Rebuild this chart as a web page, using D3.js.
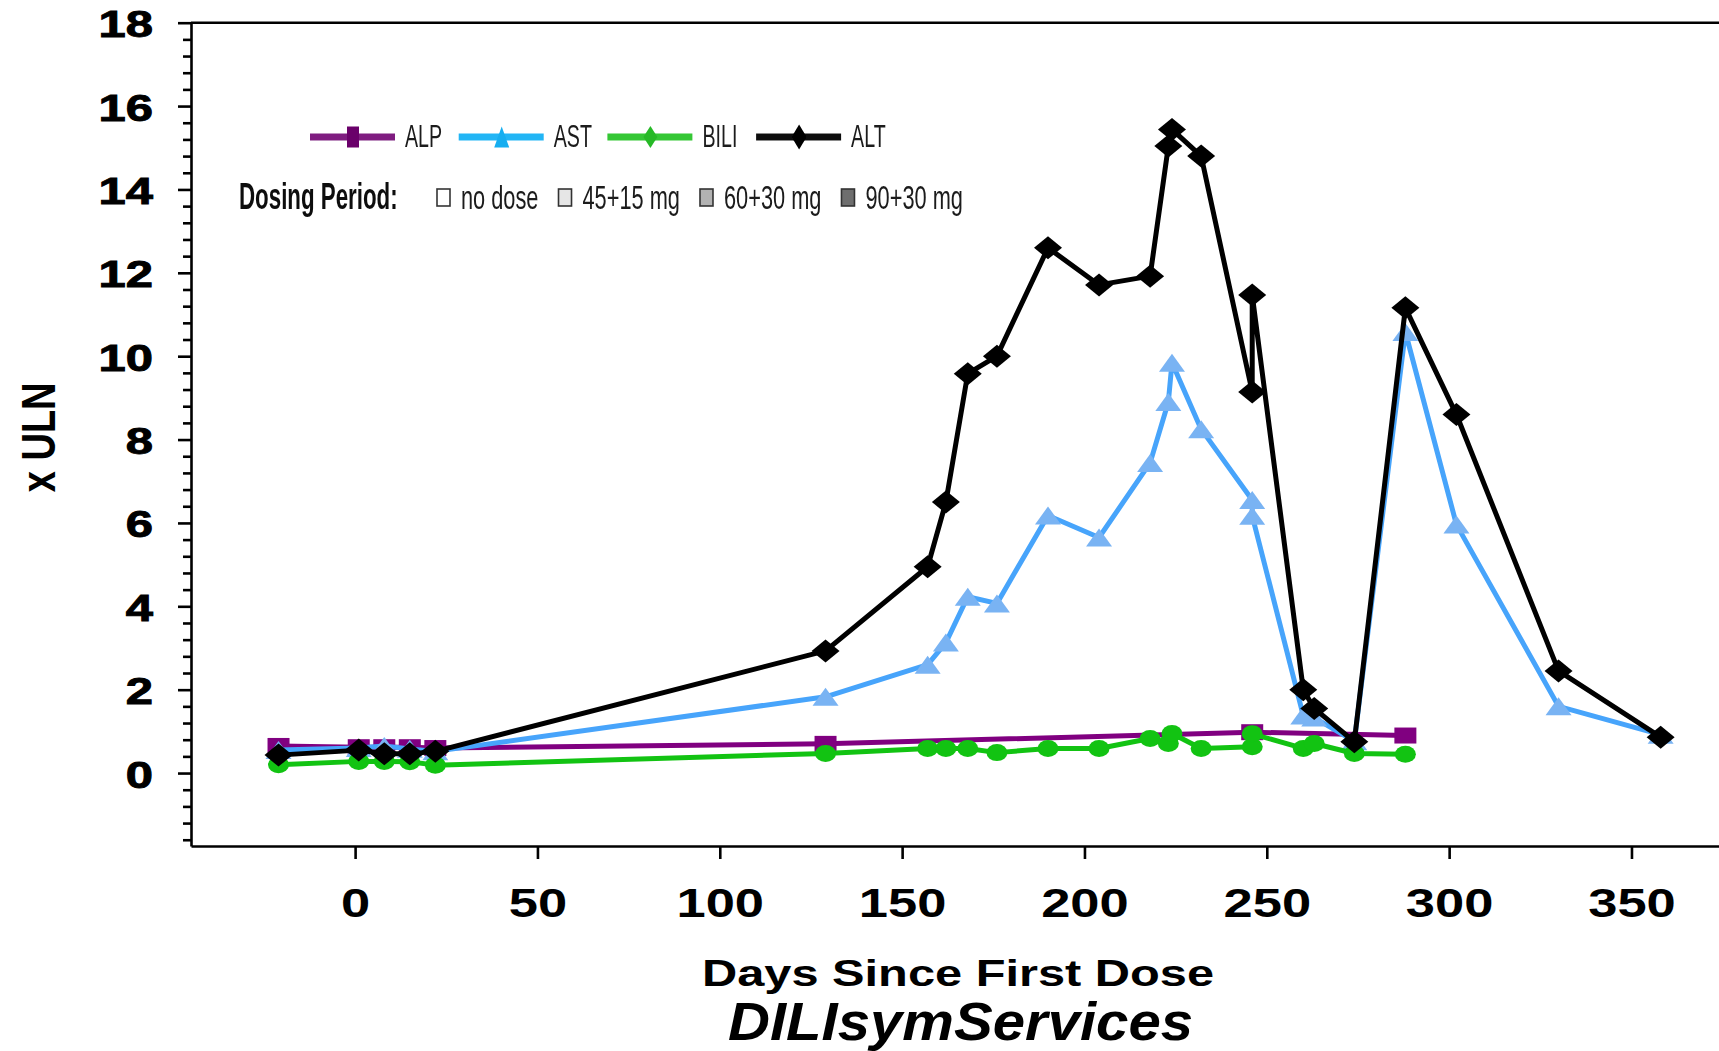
<!DOCTYPE html>
<html>
<head>
<meta charset="utf-8">
<script src="https://cdn.jsdelivr.net/npm/d3@7"></script>
<style>
  html, body { margin: 0; padding: 0; background: #fff; }
  svg { display: block; }
</style>
</head>
<body>
<script>
// ---- data: liver test results, multiples of upper limit of normal ----
const labDays = [-21, 1, 8, 15, 22, 129, 157, 162, 168, 176, 190, 204, 218, 223, 224, 232, 246, 246, 260, 263, 274, 288, 302, 330, 358];
const altValues = [0.43, 0.55, 0.46, 0.46, 0.52, 2.93, 4.95, 6.5, 9.58, 10.0, 12.6, 11.71, 11.92, 15.04, 15.44, 14.8, 9.14, 11.47, 2.0, 1.55, 0.75, 11.16, 8.6, 2.45, 0.86];
const astValues = [0.55, 0.6, 0.65, 0.58, 0.52, 1.83, 2.6, 3.13, 4.23, 4.07, 6.18, 5.65, 7.44, 8.9, 9.84, 8.25, 6.55, 6.17, 1.38, 1.33, 0.76, 10.58, 5.96, 1.6, 0.92];
const biliDays = [-21, 1, 8, 15, 22, 129, 157, 162, 168, 176, 190, 204, 218, 223, 224, 232, 246, 246, 260, 263, 274, 288];
const biliValues = [0.2, 0.28, 0.28, 0.27, 0.19, 0.47, 0.59, 0.59, 0.59, 0.49, 0.59, 0.59, 0.83, 0.71, 0.95, 0.59, 0.63, 0.94, 0.59, 0.71, 0.47, 0.45];
const alpDays = [-21, 1, 8, 15, 22, 129, 246, 288];
const alpValues = [0.65, 0.62, 0.62, 0.62, 0.6, 0.7, 0.98, 0.9];

const seriesNames = ["ALP", "AST", "BILI", "ALT"];
const dosingTitle = "Dosing Period:";
const dosingLabels = ["no dose", "45+15 mg", "60+30 mg", "90+30 mg"];
const xTickValues = [0, 50, 100, 150, 200, 250, 300, 350];
const yTickValues = [0, 2, 4, 6, 8, 10, 12, 14, 16, 18];
const xTitle = "Days Since First Dose";
const yTitle = "x ULN";
const brand = "DILIsymServices";

// ---- layout ----
const W = 1719, H = 1051;
const FONT = "'Liberation Sans', Arial, Helvetica, sans-serif";
const svg = d3.select("body").append("svg").attr("width", W).attr("height", H)
  .style("font-family", FONT);

const x = d3.scaleLinear().domain([-45, 374]).range([191, 1719]);
const y = d3.scaleLinear().domain([-1.75, 18]).range([846, 22.7]);

const defs = svg.append("defs");
defs.append("filter").attr("id", "soft")
  .append("feGaussianBlur").attr("stdDeviation", 0.6);

// ---- axes ----
const axisStroke = 2.6;
const yMinor = d3.range(-4, 46).map(i => +(i * 0.4).toFixed(2))
  .filter(v => Math.abs(v / 2 - Math.round(v / 2)) > 1e-6);

const gyMinor = svg.append("g").attr("transform", `translate(${x.range()[0]},0)`)
  .call(d3.axisLeft(y).tickValues(yMinor).tickSize(8).tickSizeOuter(0).tickFormat(""));
gyMinor.select(".domain").remove();

const ySx = 1.36;
const gy = svg.append("g").attr("transform", `translate(${x.range()[0]},0)`)
  .call(d3.axisLeft(y).tickValues(yTickValues).tickSize(13).tickSizeOuter(0).tickFormat(d3.format("d")));
gy.selectAll("text")
  .attr("x", -38 / ySx).attr("dy", 14)
  .attr("transform", `scale(${ySx},1)`)
  .style("font-size", "36px").style("font-weight", "bold")
  .attr("fill", "#000").attr("stroke", "#000").attr("stroke-width", 0.9);

const xSx = 1.28;
const gx = svg.append("g").attr("transform", `translate(0,${y.range()[0]})`)
  .call(d3.axisBottom(x).tickValues(xTickValues).tickSize(13).tickSizeOuter(0));
gx.selectAll("text")
  .attr("y", 71).attr("dy", 0)
  .attr("transform", `scale(${xSx},1)`)
  .style("font-size", "41px").style("font-weight", "bold").attr("fill", "#000");

svg.selectAll(".domain, .tick line").attr("stroke", "#000").attr("stroke-width", axisStroke);

// top frame line
svg.append("line")
  .attr("x1", x.range()[0]).attr("x2", x.range()[1])
  .attr("y1", y(18)).attr("y2", y(18))
  .attr("stroke", "#000").attr("stroke-width", axisStroke);

// axis titles
svg.append("text").text(xTitle)
  .attr("x", 958).attr("y", 986).attr("text-anchor", "middle")
  .attr("textLength", 512).attr("lengthAdjust", "spacingAndGlyphs")
  .style("font-size", "37px").style("font-weight", "bold");

svg.append("text").text(brand)
  .attr("x", 728).attr("y", 1040)
  .attr("textLength", 465).attr("lengthAdjust", "spacingAndGlyphs")
  .style("font-size", "53px").style("font-style", "italic").style("font-weight", "bold");

svg.append("text").text(yTitle)
  .attr("transform", `translate(55,${(y(18) + y(-1.75)) / 2 + 3}) rotate(-90) scale(1,1.25)`)
  .attr("text-anchor", "middle")
  .style("font-size", "38px").style("font-weight", "bold");

// ---- marker shapes ----
const shapes = {
  square: (w, h) => `M${-w/2},${-h/2}H${w/2}V${h/2}H${-w/2}Z`,
  triangle: (w, h) => `M0,${-h/2}L${w/2},${h/2}L${-w/2},${h/2}Z`,
  diamond: (w, h) => `M0,${-h/2}L${w/2},0L0,${h/2}L${-w/2},0Z`,
  ellipse: (w, h) => `M${-w/2},0A${w/2},${h/2} 0 1,0 ${w/2},0A${w/2},${h/2} 0 1,0 ${-w/2},0Z`
};

const series = [
  { name: "ALP", days: alpDays, vals: alpValues, line: "#800080", fill: "#800080", shape: "square", w: 22, h: 16 },
  { name: "AST", days: labDays, vals: astValues, line: "#47a4fb", fill: "#79b3f3", shape: "triangle", w: 26, h: 18 },
  { name: "BILI", days: biliDays, vals: biliValues, line: "#12c312", fill: "#12c312", shape: "ellipse", w: 21, h: 17 },
  { name: "ALT", days: labDays, vals: altValues, line: "#000000", fill: "#000000", shape: "diamond", w: 28, h: 23 }
];

const lineGen = d3.line().x(d => x(d.day)).y(d => y(d.v));
const plot = svg.append("g");
series.forEach(s => {
  const pts = s.days.map((d, i) => ({ day: d, v: s.vals[i] }));
  const g = plot.append("g").attr("class", "series-" + s.name);
  g.append("path").datum(pts).attr("d", lineGen)
    .attr("fill", "none").attr("stroke", s.line).attr("stroke-width", 5)
    .attr("stroke-linejoin", "round");
  g.selectAll("path.mk").data(pts).join("path").attr("class", "mk")
    .attr("transform", d => `translate(${x(d.day)},${y(d.v)})`)
    .attr("d", shapes[s.shape](s.w, s.h))
    .attr("fill", s.fill);
});

// ---- legend ----
const legend = svg.append("g").attr("filter", "url(#soft)");
const legendColors = { ALP: "#7f1f80", AST: "#22b5f5", BILI: "#35c735", ALT: "#111111" };
const legendMarkers = {
  ALP: { shape: "square", w: 12, h: 21, fill: "#6b006b" },
  AST: { shape: "triangle", w: 15, h: 21, fill: "#14aef0" },
  BILI: { shape: "diamond", w: 14, h: 22, fill: "#27b927" },
  ALT: { shape: "diamond", w: 15, h: 25, fill: "#000000" }
};
// condensed legend lettering: natural glyphs squeezed horizontally
function narrowText(g, str, tx, ty, size, weight, color, k) {
  const t = g.append("text").text(str).attr("x", 0).attr("y", 0)
    .style("font-size", size + "px").style("font-weight", weight).attr("fill", color);
  const len = t.node().getComputedTextLength();
  t.attr("transform", `translate(${tx},${ty}) scale(${k},1)`);
  return len * k;
}

const row1Y = 137, row1Base = 147, row2Base = 209;
seriesNames.forEach((name, i) => {
  const x0 = 310 + i * 148.7;
  legend.append("line").attr("x1", x0).attr("x2", x0 + 85)
    .attr("y1", row1Y).attr("y2", row1Y)
    .attr("stroke", legendColors[name]).attr("stroke-width", 7);
  const m = legendMarkers[name];
  legend.append("path").attr("d", shapes[m.shape](m.w, m.h))
    .attr("transform", `translate(${x0 + 43},${row1Y})`).attr("fill", m.fill);
  narrowText(legend, name, x0 + 95, row1Base, 30.7, "normal", "#1a1a1a", 0.64);
});

narrowText(legend, dosingTitle, 239, row2Base, 36, "bold", "#111", 0.62);
const boxFills = ["#ffffff", "#e6e6e6", "#b2b2b2", "#6e6e6e"];
let bx = 437;
dosingLabels.forEach((lab, i) => {
  legend.append("rect").attr("x", bx).attr("y", row2Base - 20).attr("width", 13).attr("height", 17)
    .attr("fill", boxFills[i]).attr("stroke", "#333").attr("stroke-width", 1.6);
  const len = narrowText(legend, lab, bx + 24, row2Base, 33, "normal", "#1a1a1a", 0.66);
  bx = bx + 24 + len + 20;
});
</script>
</body>
</html>
